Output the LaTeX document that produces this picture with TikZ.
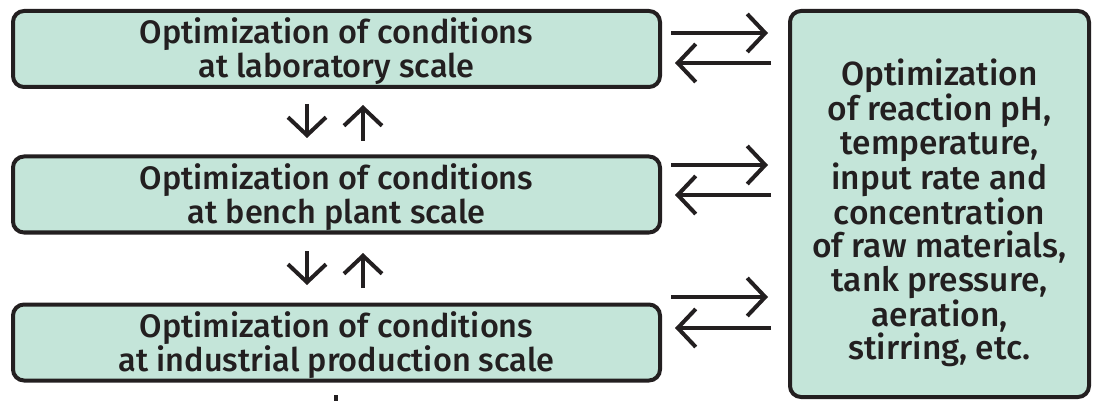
\documentclass[tikz,border=0pt]{standalone}
\usepackage{fontspec}
\setmainfont{Fira Sans}[UprightFont={* Medium}]
\usetikzlibrary{arrows.meta}
\definecolor{boxfill}{RGB}{196,229,217}
\definecolor{ink}{RGB}{35,31,32}
\begin{document}
\begin{tikzpicture}[x=1pt,y=-1pt,
  box/.style={draw=ink, line width=4pt, fill=boxfill, rounded corners=11pt, inner sep=0pt},
  lbox/.style={box, minimum width=647pt, minimum height=76pt},
  txt/.style={inner sep=0pt, align=center, text=ink, font=\fontsize{32.5}{34}\selectfont},
  rtxt/.style={txt, font=\fontsize{33.5}{33.6}\selectfont},
  conn/.style={draw=ink, line width=4pt, -{Straight Barb[length=18pt,width=38pt]}}]
\useasboundingbox (0,0) rectangle (1096,401);
\node[lbox] (b1) at (336.5,49) {};
\node[lbox] (b2) at (336.5,194.5) {};
\node[lbox] (b3) at (336.5,342.5) {};
\node[box, minimum width=299pt, minimum height=386pt] (b4) at (939.5,204) {};
\node[txt] (t1) at ([yshift=-2.5pt]b1.center) {Optimization of conditions\\at laboratory scale};
\node[txt] (t2) at ([yshift=-2.5pt]b2.center) {Optimization of conditions\\at bench plant scale};
\node[txt] (t3) at ([yshift=-2.5pt]b3.center) {Optimization of conditions\\at industrial production scale};
\node[rtxt] (t4) at ([yshift=-9pt]b4.center) {Optimization\\of reaction pH,\\temperature,\\input rate and\\concentration\\of raw materials,\\tank pressure,\\aeration,\\stirring, etc.};
% horizontal pairs
\draw[conn, shorten <=9pt, shorten >=20pt] ([yshift=16pt]b1.east) -- ([yshift=16pt]b1.east -| b4.west);
\draw[conn, shorten <=17pt, shorten >=13pt] ([yshift=-14pt]b1.east -| b4.west) -- ([yshift=-14pt]b1.east);
\draw[conn, shorten <=9pt, shorten >=20pt] ([yshift=29.5pt]b2.east) -- ([yshift=29.5pt]b2.east -| b4.west);
\draw[conn, shorten <=17pt, shorten >=13pt] ([yshift=-0.5pt]b2.east -| b4.west) -- ([yshift=-0.5pt]b2.east);
\draw[conn, shorten <=9pt, shorten >=20pt] ([yshift=45.5pt]b3.east) -- ([yshift=45.5pt]b3.east -| b4.west);
\draw[conn, shorten <=17pt, shorten >=13pt] ([yshift=14.5pt]b3.east -| b4.west) -- ([yshift=14.5pt]b3.east);
% vertical pairs
\draw[conn, shorten <=15pt, shorten >=16.5pt] ([xshift=-29.5pt]b1.south) -- ([xshift=-29.5pt]b1.south |- b2.north);
\draw[conn, shorten <=13.5pt, shorten >=16pt] ([xshift=26.5pt]b1.south |- b2.north) -- ([xshift=26.5pt]b1.south);
\draw[conn, shorten <=16.5pt, shorten >=17.5pt] ([xshift=-29.5pt]b2.south) -- ([xshift=-29.5pt]b2.south |- b3.north);
\draw[conn, shorten <=14.5pt, shorten >=18.5pt] ([xshift=26.5pt]b2.south |- b3.north) -- ([xshift=26.5pt]b2.south);
% stub below bottom box
\coordinate (stubtop) at ([xshift=-0.5pt,yshift=-12.5pt]b3.south);
\coordinate (stubbot) at ([xshift=-0.5pt,yshift=-22pt]b3.south);
\draw[ink, line width=4pt] (stubtop) -- (stubbot);
\end{tikzpicture}
\end{document}
